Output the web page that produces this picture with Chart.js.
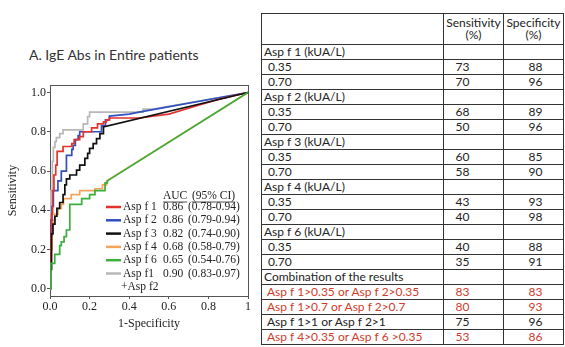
<!DOCTYPE html>
<html>
<head>
<meta charset="utf-8">
<script src="https://cdn.jsdelivr.net/npm/chart.js@4.4.1/dist/chart.umd.min.js"></script>
<style>
  html, body { margin: 0; padding: 0; background: #fff; }
  body { width: 565px; height: 347px; position: relative; overflow: hidden; }
  #title { position: absolute; left: 29px; top: 46px; font: 14px Lato, sans-serif; color: #333; white-space: nowrap; }
  #rocBox { position: absolute; left: 0; top: 0; width: 258px; height: 347px; }
  #cutoffs { position: absolute; left: 261px; top: 13px; border-collapse: collapse; table-layout: fixed;
             font: 12px Lato, sans-serif; color: #222; }
  #cutoffs td { border: 1px solid #333; padding: 0; height: 14px; line-height: 14px; white-space: nowrap; overflow: hidden; }
  #cutoffs tr.head td { height: 30px; line-height: 12.5px; text-align: center; vertical-align: middle; }
  #cutoffs td.lab { padding-left: 2px; }
  #cutoffs td.lab.sub { padding-left: 6px; }
  #cutoffs td.lab.combo { padding-left: 5px; }
  #cutoffs td.sens { text-align: center; padding-right: 22px; }
  #cutoffs td.spec { text-align: center; padding-left: 4px; }
  #cutoffs tr.red td { color: #d13b2c; }
</style>
</head>
<body>
<div id="title">A. IgE Abs in Entire patients</div>
<div id="rocBox"><canvas id="roc"></canvas></div>
<table id="cutoffs">
  <colgroup><col style="width:182px"><col style="width:60px"><col style="width:60px"></colgroup>
  <tbody id="cutoffBody"></tbody>
</table>

<script>
// ROC curves: [1 - specificity, sensitivity]
const rocAspf1 = [[0,0],[0,0.1],[0.003,0.1],[0.003,0.27],[0.008,0.27],[0.008,0.38],[0.013,0.38],[0.013,0.5],
  [0.02,0.5],[0.02,0.58],[0.029,0.58],[0.029,0.63],[0.036,0.63],[0.036,0.70],[0.066,0.70],[0.066,0.725],
  [0.11,0.725],[0.11,0.74],[0.122,0.74],[0.122,0.76],[0.15,0.76],[0.15,0.775],[0.168,0.775],[0.168,0.80],
  [0.21,0.80],[0.21,0.82],[0.24,0.82],[0.24,0.84],[0.27,0.84],[0.27,0.85],[0.285,0.85],[0.285,0.86],
  [0.3,0.86],[0.3,0.87],[0.45,0.87],[0.6,0.89],[0.75,0.935],[0.85,0.965],[1,1]];
const rocAspf2 = [[0,0],[0,0.2],[0.005,0.2],[0.005,0.35],[0.01,0.35],[0.01,0.42],[0.017,0.42],[0.017,0.5],
  [0.04,0.5],[0.04,0.55],[0.057,0.55],[0.057,0.6],[0.083,0.6],[0.083,0.68],[0.11,0.68],[0.11,0.71],
  [0.117,0.71],[0.117,0.73],[0.128,0.73],[0.128,0.76],[0.142,0.76],[0.142,0.78],[0.15,0.78],[0.15,0.80],
  [0.26,0.80],[0.26,0.83],[0.28,0.83],[0.28,0.86],[0.3,0.86],[0.3,0.88],[0.4,0.89],[0.45,0.90],[1,1]];
const rocAspf3 = [[0,0],[0,0.1],[0.008,0.1],[0.008,0.28],[0.015,0.28],[0.015,0.33],[0.025,0.33],[0.025,0.37],
  [0.035,0.37],[0.035,0.41],[0.049,0.41],[0.049,0.44],[0.066,0.44],[0.066,0.48],[0.075,0.48],[0.075,0.53],
  [0.083,0.53],[0.083,0.56],[0.10,0.56],[0.10,0.58],[0.134,0.58],[0.134,0.605],[0.15,0.605],[0.15,0.63],
  [0.176,0.63],[0.176,0.665],[0.19,0.665],[0.19,0.69],[0.2,0.69],[0.2,0.715],[0.218,0.715],[0.218,0.74],
  [0.235,0.74],[0.235,0.765],[0.252,0.765],[0.252,0.79],[0.27,0.79],[0.27,0.825],[1,1]];
const rocAspf4 = [[0,0],[0,0.05],[0.005,0.05],[0.005,0.2],[0.01,0.2],[0.01,0.3],[0.015,0.3],[0.015,0.35],
  [0.024,0.35],[0.024,0.38],[0.04,0.38],[0.04,0.41],[0.057,0.41],[0.057,0.43],[0.068,0.43],[0.068,0.46],
  [0.107,0.46],[0.107,0.48],[0.15,0.48],[0.15,0.50],[0.227,0.50],[0.227,0.51],[0.265,0.51],[0.265,0.53],
  [0.286,0.53],[0.286,0.55],[1,1]];
const rocAspf6 = [[0,0],[0.004,0],[0.004,0.13],[0.024,0.13],[0.024,0.176],[0.049,0.176],[0.049,0.22],
  [0.057,0.22],[0.057,0.24],[0.071,0.24],[0.071,0.266],[0.083,0.266],[0.083,0.30],[0.10,0.30],[0.10,0.43],
  [0.16,0.43],[0.16,0.46],[0.2,0.46],[0.2,0.48],[0.227,0.48],[0.227,0.50],[0.278,0.50],[0.278,0.54],
  [0.29,0.54],[0.29,0.55],[1,1]];
const rocAspf1f2 = [[0,0],[0,0.3],[0.005,0.3],[0.005,0.5],[0.012,0.5],[0.012,0.65],[0.017,0.65],[0.017,0.72],
  [0.025,0.72],[0.025,0.75],[0.032,0.75],[0.032,0.77],[0.049,0.77],[0.049,0.79],[0.066,0.79],[0.066,0.81],
  [0.168,0.81],[0.168,0.84],[0.19,0.84],[0.19,0.877],[0.2,0.877],[0.2,0.90],[0.47,0.90],[0.47,0.915],
  [0.52,0.915],[1,1]];

const seriesNames = ['Asp f 1', 'Asp f 2', 'Asp f 3', 'Asp f 4', 'Asp f 6', 'Asp f1'];
const seriesSecondLine = ['', '', '', '', '', '+Asp f2'];
const aucValues = [0.86, 0.86, 0.82, 0.68, 0.65, 0.90];
const aucCI = ['0.78-0.94', '0.79-0.94', '0.74-0.90', '0.58-0.79', '0.54-0.76', '0.83-0.97'];
const xTickValues = [0, 0.2, 0.4, 0.6, 0.8, 1];
const yTickValues = [0, 0.2, 0.4, 0.6, 0.8, 1.0];

// Cut-off table
const rowLabels = ['Asp f 1 (kUA/L)', '0.35', '0.70', 'Asp f 2 (kUA/L)', '0.35', '0.70',
  'Asp f 3 (kUA/L)', '0.35', '0.70', 'Asp f 4 (kUA/L)', '0.35', '0.70', 'Asp f 6 (kUA/L)', '0.35', '0.70',
  'Combination of the results', 'Asp f 1>0.35 or Asp f 2>0.35', 'Asp f 1>0.7 or Asp f 2>0.7',
  'Asp f 1>1 or Asp f 2>1', 'Asp f 4>0.35 or Asp f 6 >0.35'];
const sensitivityPct = ['', 73, 70, '', 68, 50, '', 60, 58, '', 43, 40, '', 40, 35, '', 83, 80, 75, 53];
const specificityPct = ['', 88, 96, '', 89, 96, '', 85, 90, '', 93, 98, '', 88, 91, '', 83, 93, 96, 86];

const curves = [rocAspf1, rocAspf2, rocAspf3, rocAspf4, rocAspf6, rocAspf1f2];
const colors = ['#e4322b', '#3050c0', '#111111', '#f3a35a', '#3cae3c', '#b8b8b8'];
const drawOrder = [2, 3, 1, 4, 0, 5];

// table body
const body = document.getElementById('cutoffBody');
const headRow = document.createElement('tr');
headRow.className = 'head';
headRow.innerHTML = '<td></td><td>Sensitivity<br>(%)</td><td>Specificity<br>(%)</td>';
body.appendChild(headRow);
const redRows = new Set([16, 17, 19]);
rowLabels.forEach((label, i) => {
  const tr = document.createElement('tr');
  if (redRows.has(i)) tr.className = 'red';
  const lab = document.createElement('td');
  const isGroup = label.includes('kUA/L') || label.startsWith('Combination');
  lab.className = 'lab' + (isGroup ? '' : (i > 15 ? ' combo' : ' sub'));
  lab.textContent = label;
  const s = document.createElement('td'); s.className = 'sens'; s.textContent = sensitivityPct[i];
  const p = document.createElement('td'); p.className = 'spec'; p.textContent = specificityPct[i];
  tr.append(lab, s, p);
  body.appendChild(tr);
});

const serif = '"Liberation Serif", "Times New Roman", serif';
const ink = '#222';
const frame = '#555';

// AUC legend inside the plot
const rocLegend = {
  id: 'rocLegend',
  afterDatasetsDraw(chart) {
    const { ctx, chartArea: a } = chart;
    ctx.save();
    ctx.font = '11.5px ' + serif;
    ctx.fillStyle = ink;
    ctx.textBaseline = 'middle';
    const colName = a.left + 73, colAuc = a.left + 113, colCI = a.left + 138;
    const headY = a.top + 111;
    const heads = [[colAuc, 'AUC'], [colCI + 4, '(95% CI)']];
    ctx.strokeStyle = ink; ctx.lineWidth = 0.8;
    heads.forEach(([x, t]) => {
      ctx.fillText(t, x, headY);
      const w = ctx.measureText(t).width;
      ctx.beginPath(); ctx.moveTo(x, headY + 6); ctx.lineTo(x + w, headY + 6); ctx.stroke();
    });
    chart.data.datasets.forEach((ds, i) => {
      const y = a.top + 122 + i * 13.3;
      ctx.strokeStyle = ds.borderColor; ctx.lineWidth = 2.5;
      ctx.beginPath(); ctx.moveTo(a.left + 56, y); ctx.lineTo(a.left + 71, y); ctx.stroke();
      ctx.fillStyle = ink;
      ctx.fillText(seriesNames[i], colName, y);
      ctx.fillText(aucValues[i].toFixed(2), colAuc, y);
      ctx.fillText('(' + aucCI[i] + ')', colCI, y);
      if (seriesSecondLine[i]) ctx.fillText(seriesSecondLine[i], colName - 2, y + 13.3);
    });
    ctx.restore();
  }
};

const tickFont = { family: serif, size: 12 };

new Chart(document.getElementById('roc'), {
  type: 'scatter',
  data: {
    datasets: curves.map((c, i) => ({
      label: seriesNames[i] + (seriesSecondLine[i] ? ' ' + seriesSecondLine[i] : ''),
      data: c.map(([x, y]) => ({ x, y })),
      borderColor: colors[i],
      backgroundColor: colors[i],
      borderWidth: 1.7,
      showLine: true,
      pointRadius: 0,
      tension: 0,
      order: drawOrder[i]
    }))
  },
  options: {
    responsive: true,
    maintainAspectRatio: false,
    animation: false,
    layout: { padding: { top: 85, right: 10, left: 0, bottom: 0 } },
    plugins: { legend: { display: false }, tooltip: { enabled: false } },
    scales: {
      x: {
        type: 'linear', position: 'bottom', min: 0, max: 1,
        afterBuildTicks: s => { s.ticks = xTickValues.map(v => ({ value: v })); },
        afterFit: s => { s.height = 51; },
        ticks: { font: tickFont, color: ink, padding: 1, maxRotation: 0,
                 callback: v => (Math.abs(v - 1) < 1e-9 ? '1' : v.toFixed(1)) },
        grid: { drawOnChartArea: false, drawTicks: true, tickLength: 3, color: frame },
        border: { color: frame, width: 1 },
        title: { display: true, text: '1-Specificity', font: tickFont, color: ink, padding: { top: 0, bottom: 16 } }
      },
      y: {
        type: 'linear', position: 'left', min: -0.036, max: 1.038,
        afterBuildTicks: s => { s.ticks = yTickValues.map(v => ({ value: v })); },
        afterFit: s => { s.width = 50; },
        ticks: { font: tickFont, color: ink, padding: 1, callback: v => v.toFixed(1) },
        grid: { drawOnChartArea: false, drawTicks: true, tickLength: 3, color: frame },
        border: { color: frame, width: 1 },
        title: { display: true, text: 'Sensitivity', font: tickFont, color: ink, padding: { top: 6, bottom: 0 } }
      },
      xTop: {
        type: 'linear', position: 'top', min: 0, max: 1,
        ticks: { display: false }, grid: { display: false, drawTicks: false },
        border: { color: frame, width: 1 }, afterFit: s => { s.height = 0; }
      },
      yRight: {
        type: 'linear', position: 'right', min: 0, max: 1,
        ticks: { display: false }, grid: { display: false, drawTicks: false },
        border: { color: frame, width: 1 }, afterFit: s => { s.width = 0; }
      }
    }
  },
  plugins: [rocLegend]
});
</script>
</body>
</html>
